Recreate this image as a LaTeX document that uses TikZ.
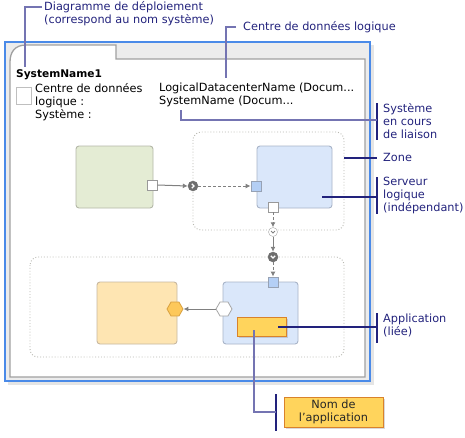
\documentclass[tikz,border=0pt]{standalone}
\usepackage{fontspec}
\setmainfont{DejaVu Sans}
\usetikzlibrary{shapes.geometric,arrows.meta,shadows}
\definecolor{framblue}{HTML}{4A8AE8}
\definecolor{tabgray}{HTML}{ECECEC}
\definecolor{panelline}{HTML}{A0A0A0}
\definecolor{greenfill}{HTML}{E4ECD4}
\definecolor{greenline}{HTML}{B4B8A8}
\definecolor{bluefill}{HTML}{DAE7FA}
\definecolor{blueline}{HTML}{A8B4C8}
\definecolor{portblue}{HTML}{B4CFF5}
\definecolor{orangefill}{HTML}{FEE5B2}
\definecolor{orangeline}{HTML}{C8B8A0}
\definecolor{hexorange}{HTML}{FDC85A}
\definecolor{hexline}{HTML}{D8A040}
\definecolor{appfill}{HTML}{FFD45C}
\definecolor{appline}{HTML}{D9822B}
\definecolor{navy}{HTML}{22227C}
\definecolor{leadc}{HTML}{7474B2}
\definecolor{zonec}{HTML}{B8B8B0}
\definecolor{darkc}{HTML}{6E6E6E}
\definecolor{arrowc}{HTML}{808080}
\tikzset{
  txt/.style={font=\fontsize{11.3}{13}\selectfont, inner sep=0, align=left, text=black},
  call/.style={font=\fontsize{11.3}{13}\selectfont, inner sep=0, align=left, text=navy, anchor=west},
  lead/.style={draw=leadc, line width=1.3pt},
  brack/.style={draw=navy, line width=1.3pt},
  box/.style={rectangle, rounded corners=3pt, line width=0.9pt, inner sep=0},
  greenbox/.style={box, fill=greenfill, draw=greenline},
  bluebox/.style={box, fill=bluefill, draw=blueline},
  orangebox/.style={box, fill=orangefill, draw=orangeline},
  port/.style={rectangle, minimum width=10pt, minimum height=10pt, inner sep=0, line width=0.8pt},
  wport/.style={port, fill=white, draw=arrowc!80},
  bport/.style={port, fill=portblue, draw=blueline!90!black},
  dcirc/.style={circle, minimum size=10pt, inner sep=0, fill=darkc, draw=darkc},
  ocirc/.style={circle, minimum size=9pt, inner sep=0, fill=white, draw=arrowc!70},
  hexa/.style={regular polygon, regular polygon sides=6, minimum size=16pt, inner sep=0, line width=0.8pt},
  zone/.style={draw=zonec, dotted, line width=0.9pt, rounded corners=8pt},
  conn/.style={draw=arrowc, line width=1pt, -{Latex[length=5pt,width=5pt]}},
  dconn/.style={conn, dashed, dash pattern=on 3pt off 2pt},
}
\begin{document}
\begin{tikzpicture}[x=1pt,y=-1pt]
\useasboundingbox (0,0) rectangle (465,437);
% frame with shadow
\fill[black!10] (8,45) rectangle (374,385);
\draw[draw=framblue, fill=tabgray, line width=1.2pt] (5,42) rectangle (370,381);
\draw[draw=panelline, fill=white, line width=1.3pt]
  (10,377) -- (10,62) .. controls (10,52) and (15,45) .. (26,45) -- (116,45) -- (116,59) -- (365,59) -- (365,377) -- cycle;

% header texts
\node[txt, anchor=west, font=\fontsize{10.6}{13}\selectfont\bfseries] (sysname) at (16,75) {SystemName1};
\node[draw=black!25, line width=1pt, minimum width=15pt, minimum height=17pt, inner sep=0] (icon) at (23.5,95.5) {};
\node[txt, anchor=north west] (labels) at (35,83) {Centre de données\\logique :\\Système :};
\node[txt, anchor=north west] (values) at (159,83) {LogicalDatacenterName (Docum...\\SystemName (Docum...};

% zones
\draw[zone] (193,132) rectangle (344,230);
\draw[zone] (30,257) rectangle (344,357);

% shapes
\node[greenbox, minimum width=77pt, minimum height=62pt] (g) at (114.5,177) {};
\node[wport] (gp) at (152,185) {};
\node[bluebox, minimum width=75pt, minimum height=62pt] (b1) at (294.5,177) {};
\node[bport] (bp1) at (256,186) {};
\node[wport] (wp1) at (273,207) {};
\node[dcirc] (c1) at (193,186) {};
\node[ocirc] (oc) at (273,232) {};
\node[dcirc] (dc2) at (273,257) {};
\node[bluebox, minimum width=75pt, minimum height=62pt] (b2) at (260.5,313) {};
\node[bport] (bp2) at (273,282) {};
\node[orangebox, minimum width=80pt, minimum height=62pt] (o) at (137,313) {};
\node[hexa, fill=hexorange, draw=hexline] (oh) at (175,309) {};
\node[hexa, fill=white, draw=arrowc!70] (wh) at (224,309) {};
\node[rectangle, fill=appfill, draw=appline, line width=1pt, minimum width=49pt, minimum height=19pt, inner sep=0, drop shadow={opacity=0.3, shadow xshift=2pt, shadow yshift=-2pt}] (app) at (261.5,326.5) {};

% chevrons
\draw[white, line width=1.1pt] ([shift={(-1.2,-2.2)}]c1.center) -- ++(2.2,2.2) -- ++(-2.2,2.2);
\draw[arrowc, line width=0.9pt] ([shift={(-2,-1)}]oc.center) -- ++(2,2) -- ++(2,-2);
\draw[white, line width=1.1pt] ([shift={(-2.2,-1.2)}]dc2.center) -- ++(2.2,2.2) -- ++(2.2,-2.2);

% connectors
\draw[conn] (gp.east) -- (c1.west);
\draw[dconn] (c1.east) -- (bp1.west);
\draw[dconn] (wp1.south) -- (oc.north);
\draw[conn] (oc.south) -- (dc2.north);
\draw[dconn] (dc2.south) -- (bp2.north);
\draw[conn] (wh.west) -- (oh.east);

% callouts
\node[call] (cdiag) at (44,14) {Diagramme de déploiement\\(correspond au nom système)};
\coordinate (p1) at (42,7);
\coordinate (p1e) at (25,67);
\draw[lead] (p1) -| (p1e);

\node[call] (cldc) at (243,27) {Centre de données logique};
\coordinate (p2) at (236,27);
\coordinate (p2e) at (226,78);
\draw[lead] (p2) -| (p2e);

\node[call] (csys) at (383,121.5) {Système\\en cours\\de liaison};
\coordinate (b3a) at (377,103);
\coordinate (b3b) at (377,140);
\draw[brack] (b3a) -- (b3b);
\coordinate (p3) at (181,110);
\coordinate (p3e) at (377,120);
\draw[lead] (p3) |- (p3e);

\node[call] (czone) at (383,157) {Zone};
\coordinate (p4) at (344,158);
\coordinate (p4e) at (377,158);
\draw[brack] (p4) -- (p4e);

\node[call] (cserv) at (383,195) {Serveur\\logique\\(indépendant)};
\coordinate (b5a) at (377,177);
\coordinate (b5b) at (377,214);
\draw[brack] (b5a) -- (b5b);
\coordinate (p5) at (322,197);
\coordinate (p5e) at (377,197);
\draw[brack] (p5) -- (p5e);

\node[call] (capp) at (383,325.5) {Application\\(liée)};
\coordinate (b6a) at (377,313);
\coordinate (b6b) at (377,343);
\draw[brack] (b6a) -- (b6b);
\coordinate (p6) at (278,327);
\coordinate (p6e) at (377,327);
\draw[brack] (p6) -- (p6e);

\node[rectangle, fill=appfill, draw=appline, line width=1pt, minimum width=99pt, minimum height=30pt, inner sep=0, align=center, font=\fontsize{11.3}{13}\selectfont, text=black!85, drop shadow={opacity=0.3, shadow xshift=2pt, shadow yshift=-2pt}] (nom) at (333.5,412) {Nom de\\l'application};
\coordinate (b7a) at (276,394);
\coordinate (b7b) at (276,431);
\draw[brack] (b7a) -- (b7b);
\coordinate (p7) at (254,330);
\coordinate (p7e) at (276,412);
\draw[lead] (p7) |- (p7e);
\end{tikzpicture}
\end{document}
